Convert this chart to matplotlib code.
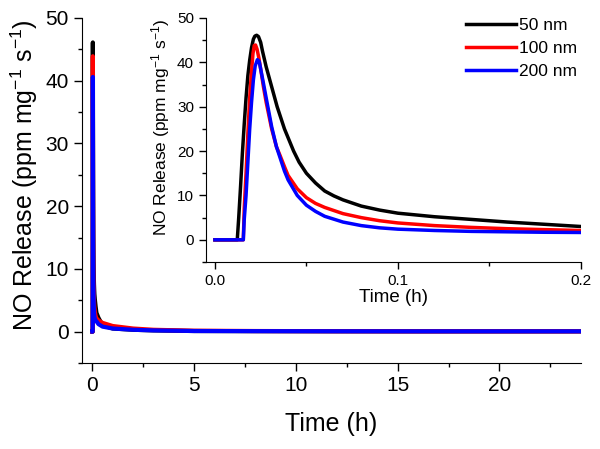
import matplotlib
matplotlib.use("Agg")
import matplotlib.pyplot as plt
from matplotlib.ticker import MultipleLocator

plt.rcParams['font.family'] = ['Liberation Sans', 'DejaVu Sans']
plt.rcParams['mathtext.default'] = 'regular'

labels = ['50 nm', '100 nm', '200 nm']
colors = ['#000000', '#ff0000', '#0000ff']

# first 0.2 h (inset)
t_50 = [0, 0.0122, 0.013, 0.014, 0.015, 0.016, 0.017, 0.018, 0.019, 0.020, 0.021,
        0.0218, 0.0228, 0.0238, 0.025, 0.026, 0.028,
        0.030, 0.032, 0.034, 0.036, 0.038, 0.040, 0.043, 0.046, 0.050, 0.055,
        0.060, 0.065, 0.070, 0.080, 0.090, 0.100,
        0.120, 0.140, 0.160, 0.180, 0.200]
v_50 = [0, 0, 5, 12, 19.5, 26, 32, 37, 40.5, 43.3, 45.2,
        45.9, 46.1, 45.8, 44.5, 42.5, 39,
        36, 33, 30, 27.5, 25, 23, 20, 17.5, 15, 12.8,
        11, 9.9, 9, 7.6, 6.7, 6.0,
        5.2, 4.6, 4.0, 3.5, 3.0]

t_100 = [0, 0.0155, 0.016, 0.017, 0.018, 0.019, 0.020, 0.0208, 0.0215, 0.0222,
         0.023, 0.024, 0.025, 0.0265, 0.028, 0.031,
         0.0336, 0.0356, 0.038, 0.040, 0.045, 0.050, 0.055, 0.060, 0.070, 0.080,
         0.090, 0.100, 0.120, 0.140, 0.160, 0.180, 0.200]
v_100 = [0, 0, 7, 15, 24, 32, 38, 42, 43.8, 43.9,
         43, 41, 38.5, 34.5, 31, 25,
         21, 19, 16.5, 14.5, 11.5, 9.5, 8.2, 7.3, 5.9, 5.0,
         4.3, 3.8, 3.2, 2.8, 2.5, 2.3, 2.1]

t_200 = [0, 0.0155, 0.016, 0.017, 0.018, 0.019, 0.020, 0.021, 0.022, 0.0232,
         0.0242, 0.025, 0.0265, 0.028, 0.031, 0.0336,
         0.0356, 0.038, 0.040, 0.045, 0.050, 0.055, 0.060, 0.070, 0.080, 0.090, 0.100,
         0.120, 0.140, 0.160, 0.180, 0.200]
v_200 = [0, 0, 4.5, 10, 17.5, 25, 31, 36, 39.2, 40.6,
         40.2, 38.5, 35.3, 32, 25.5, 21,
         18.5, 15.5, 13.5, 10, 7.8, 6.4, 5.3, 4.0, 3.2, 2.7, 2.4,
         2.1, 1.9, 1.8, 1.7, 1.65]

# rest of the 24 h run
t_long = [0.3, 0.5, 1, 2, 3, 5, 8, 12, 16, 20, 24]
v_long_50 = [2.2, 1.0, 0.5, 0.3, 0.2, 0.1, 0.08, 0.06, 0.05, 0.05, 0.05]
v_long_100 = [1.8, 1.4, 0.9, 0.5, 0.3, 0.15, 0.1, 0.07, 0.05, 0.05, 0.05]
v_long_200 = [1.2, 0.8, 0.5, 0.3, 0.2, 0.1, 0.08, 0.06, 0.05, 0.05, 0.05]

short = [(t_50, v_50), (t_100, v_100), (t_200, v_200)]
long_v = [v_long_50, v_long_100, v_long_200]


def style_axes(ax, major, minor):
    ax.spines['top'].set_visible(False)
    ax.spines['right'].set_visible(False)
    ax.tick_params(which='major', direction='out', length=major, width=1)
    ax.tick_params(which='minor', direction='out', length=minor, width=1)


fig = plt.figure(figsize=(6, 4.49), dpi=100)

ax = fig.add_axes([0.137, 0.1915, 0.831, 0.7685])
for (t, v), vl, c in zip(short, long_v, colors):
    ax.plot(t + t_long, v + vl, color=c, lw=3)
ax.set_xlim(-0.5, 24)
ax.set_ylim(-5, 50)
ax.xaxis.set_major_locator(MultipleLocator(5))
ax.xaxis.set_minor_locator(MultipleLocator(2.5))
ax.set_yticks([0, 10, 20, 30, 40, 50])
ax.yaxis.set_minor_locator(MultipleLocator(5))
style_axes(ax, 6, 3)
ax.tick_params(labelsize=15)
ax.set_xlabel('Time (h)', fontsize=18, labelpad=12)
ax.set_ylabel('NO Release (ppm mg$^{-1}$ s$^{-1}$)', fontsize=18)
ax.yaxis.set_label_coords(-0.084, 0.545)

ins = fig.add_axes([0.343, 0.4165, 0.625, 0.5435])
for (t, v), c, lab in zip(short, colors, labels):
    ins.plot(t, v, color=c, lw=2.5, label=lab)
ins.set_xlim(-0.005, 0.2)
ins.set_ylim(-5, 50)
ins.set_xticks([0.0, 0.1, 0.2])
ins.set_xticklabels(['0.0', '0.1', '0.2'])
ins.xaxis.set_minor_locator(MultipleLocator(0.05))
ins.set_yticks([0, 10, 20, 30, 40, 50])
ins.yaxis.set_minor_locator(MultipleLocator(5))
style_axes(ins, 5, 3)
ins.tick_params(labelsize=11)
ins.set_xlabel('Time (h)', fontsize=13.5, labelpad=1)
ins.set_ylabel('NO Release (ppm mg$^{-1}$ s$^{-1}$)', fontsize=12.5)
ins.yaxis.set_label_coords(-0.09, 0.55)
ins.legend(loc='upper right', bbox_to_anchor=(1.01, 1.03), frameon=False,
           fontsize=12.5, handlelength=2.9, handletextpad=0.2, labelspacing=0.45,
           borderaxespad=0)

fig.savefig('out.png', dpi=100)
